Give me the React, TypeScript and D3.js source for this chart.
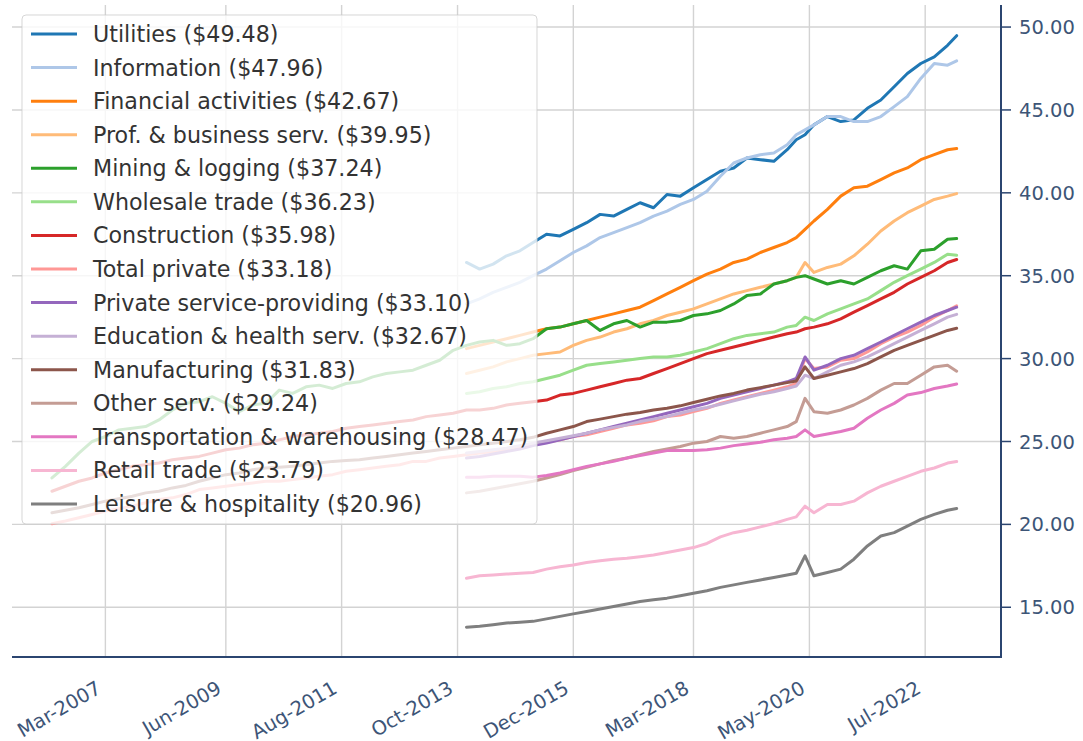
import React from 'react';
import * as d3 from 'd3';

// quarterly sample dates (plus the spring-2020 spike months)
const earlyMonths = [
  '2006-03', '2006-06', '2006-09', '2006-12',
  '2007-03', '2007-06', '2007-09', '2007-12',
  '2008-03', '2008-06', '2008-09', '2008-12',
  '2009-03', '2009-06', '2009-09', '2009-12',
  '2010-03', '2010-06', '2010-09', '2010-12',
  '2011-03', '2011-06', '2011-09', '2011-12',
  '2012-03', '2012-06', '2012-09', '2012-12',
  '2013-03', '2013-06', '2013-09',
];
const lateMonths = [
  '2013-12', '2014-03', '2014-06', '2014-09', '2014-12',
  '2015-03', '2015-06', '2015-09', '2015-12',
  '2016-03', '2016-06', '2016-09', '2016-12',
  '2017-03', '2017-06', '2017-09', '2017-12',
  '2018-03', '2018-06', '2018-09', '2018-12',
  '2019-03', '2019-06', '2019-09', '2019-12',
  '2020-02', '2020-04', '2020-06', '2020-09', '2020-12',
  '2021-03', '2021-06', '2021-09', '2021-12',
  '2022-03', '2022-06', '2022-09', '2022-12', '2023-02',
];

const utilities = [35.8, 35.4, 35.7, 36.2, 36.5, 37.0, 37.5, 37.4, 37.8, 38.2, 38.7, 38.6, 39.0, 39.4, 39.1, 39.9, 39.8, 40.3, 40.8, 41.3, 41.5, 42.1, 42.0, 41.9, 42.6, 43.2, 43.5, 44.1, 44.6, 44.3, 44.4, 45.1, 45.6, 46.4, 47.2, 47.8, 48.2, 48.9, 49.48];
const information = [33.3, 33.6, 34.0, 34.3, 34.6, 35.0, 35.4, 35.9, 36.4, 36.8, 37.3, 37.6, 37.9, 38.2, 38.6, 38.9, 39.3, 39.6, 40.1, 41.0, 41.8, 42.1, 42.3, 42.4, 42.9, 43.5, 43.8, 44.1, 44.6, 44.6, 44.3, 44.3, 44.6, 45.2, 45.8, 46.9, 47.8, 47.7, 47.96];
const financial = [30.6, 30.8, 31.0, 31.2, 31.4, 31.6, 31.8, 31.9, 32.1, 32.3, 32.5, 32.7, 32.9, 33.1, 33.5, 33.9, 34.3, 34.7, 35.1, 35.4, 35.8, 36.0, 36.4, 36.7, 37.0, 37.3, 37.8, 38.3, 39.0, 39.8, 40.3, 40.4, 40.8, 41.2, 41.5, 42.0, 42.3, 42.6, 42.67];
const profBusiness = [29.1, 29.3, 29.5, 29.8, 30.0, 30.2, 30.3, 30.4, 30.8, 31.1, 31.3, 31.6, 31.8, 32.1, 32.3, 32.6, 32.8, 33.0, 33.3, 33.6, 33.9, 34.1, 34.3, 34.5, 34.7, 34.9, 35.8, 35.2, 35.5, 35.7, 36.2, 36.9, 37.7, 38.3, 38.8, 39.2, 39.6, 39.8, 39.95];
const miningEarly = [22.8, 23.5, 24.3, 25.0, 25.3, 25.7, 25.8, 25.9, 26.3, 26.9, 27.3, 27.4, 27.7, 27.3, 26.8, 27.2, 27.3, 28.1, 27.9, 28.3, 28.4, 28.2, 28.5, 28.6, 28.9, 29.1, 29.2, 29.3, 29.6, 29.9, 30.5];
const miningLate = [30.8, 31.0, 31.1, 30.8, 30.9, 31.2, 31.8, 31.9, 32.1, 32.3, 31.7, 32.1, 32.3, 31.9, 32.2, 32.2, 32.3, 32.6, 32.7, 32.9, 33.3, 33.8, 33.9, 34.5, 34.7, 34.9, 35.0, 34.8, 34.5, 34.7, 34.5, 34.9, 35.3, 35.6, 35.4, 36.5, 36.6, 37.2, 37.24];
const wholesale = [27.9, 28.0, 28.2, 28.3, 28.5, 28.6, 28.8, 29.0, 29.3, 29.6, 29.7, 29.8, 29.9, 30.0, 30.1, 30.1, 30.2, 30.4, 30.6, 30.9, 31.2, 31.4, 31.5, 31.6, 31.9, 32.0, 32.5, 32.3, 32.7, 33.0, 33.3, 33.6, 34.1, 34.6, 35.0, 35.4, 35.8, 36.3, 36.23];
const constructionEarly = [22.0, 22.3, 22.6, 22.8, 23.1, 23.3, 23.5, 23.6, 23.7, 23.9, 24.0, 24.1, 24.3, 24.5, 24.6, 24.8, 24.9, 25.1, 25.3, 25.4, 25.5, 25.6, 25.8, 25.9, 26.0, 26.1, 26.2, 26.3, 26.5, 26.6, 26.7];
const constructionLate = [26.9, 26.9, 27.0, 27.2, 27.3, 27.4, 27.5, 27.8, 27.9, 28.1, 28.3, 28.5, 28.7, 28.8, 29.1, 29.4, 29.7, 30.0, 30.3, 30.5, 30.7, 30.9, 31.1, 31.3, 31.5, 31.6, 31.8, 31.9, 32.1, 32.4, 32.8, 33.2, 33.6, 34.0, 34.5, 34.9, 35.3, 35.8, 35.98];
const totalPrivateEarly = [20.04, 20.2, 20.4, 20.6, 20.8, 20.95, 21.1, 21.3, 21.5, 21.6, 21.8, 22.1, 22.2, 22.3, 22.4, 22.5, 22.6, 22.6, 22.7, 22.8, 22.9, 23.0, 23.2, 23.3, 23.4, 23.5, 23.6, 23.8, 23.8, 24.0, 24.1];
const totalPrivateLate = [24.2, 24.3, 24.4, 24.5, 24.6, 24.85, 24.95, 25.1, 25.3, 25.4, 25.6, 25.8, 26.0, 26.1, 26.25, 26.5, 26.6, 26.8, 27.0, 27.3, 27.5, 27.7, 27.9, 28.1, 28.3, 28.5, 30.0, 29.4, 29.5, 29.9, 30.0, 30.4, 30.9, 31.3, 31.6, 32.0, 32.5, 32.9, 33.18];
const privateService = [24.0, 24.1, 24.25, 24.4, 24.55, 24.75, 24.9, 25.1, 25.3, 25.5, 25.7, 25.9, 26.1, 26.3, 26.5, 26.7, 26.9, 27.1, 27.3, 27.6, 27.8, 28.0, 28.2, 28.4, 28.6, 28.8, 30.1, 29.3, 29.6, 30.0, 30.2, 30.6, 31.0, 31.4, 31.8, 32.2, 32.6, 32.9, 33.10];
const eduHealth = [24.3, 24.4, 24.5, 24.6, 24.75, 24.9, 25.05, 25.2, 25.35, 25.5, 25.7, 25.85, 26.0, 26.2, 26.35, 26.5, 26.7, 26.9, 27.05, 27.25, 27.45, 27.65, 27.85, 28.0, 28.2, 28.35, 29.0, 28.8, 29.2, 29.6, 29.8, 30.1, 30.5, 30.9, 31.3, 31.7, 32.1, 32.5, 32.67];
const manufacturingEarly = [20.7, 20.85, 21.0, 21.2, 21.4, 21.55, 21.7, 21.9, 22.0, 22.2, 22.35, 22.6, 22.8, 23.0, 23.1, 23.3, 23.4, 23.45, 23.5, 23.6, 23.7, 23.8, 23.85, 23.9, 24.0, 24.1, 24.2, 24.3, 24.4, 24.5, 24.6];
const manufacturingLate = [24.7, 24.8, 24.9, 25.0, 25.1, 25.25, 25.5, 25.7, 25.9, 26.2, 26.35, 26.5, 26.65, 26.75, 26.9, 27.0, 27.15, 27.35, 27.55, 27.75, 27.9, 28.1, 28.25, 28.4, 28.55, 28.65, 29.5, 28.8, 29.0, 29.2, 29.4, 29.7, 30.1, 30.5, 30.8, 31.1, 31.4, 31.7, 31.83];
const otherServ = [21.9, 22.0, 22.15, 22.3, 22.45, 22.6, 22.8, 23.0, 23.25, 23.45, 23.65, 23.85, 24.0, 24.2, 24.4, 24.55, 24.7, 24.9, 25.0, 25.3, 25.2, 25.3, 25.5, 25.7, 25.9, 26.2, 27.6, 26.8, 26.7, 26.9, 27.2, 27.6, 28.1, 28.5, 28.5, 29.0, 29.5, 29.6, 29.24];
const transport = [22.85, 22.85, 22.9, 22.9, 22.9, 22.85, 22.95, 23.1, 23.3, 23.5, 23.65, 23.8, 24.0, 24.15, 24.3, 24.45, 24.45, 24.45, 24.5, 24.6, 24.75, 24.85, 24.95, 25.1, 25.2, 25.3, 25.7, 25.3, 25.45, 25.6, 25.8, 26.4, 26.9, 27.3, 27.8, 27.95, 28.2, 28.35, 28.47];
const retail = [16.75, 16.9, 16.95, 17.0, 17.05, 17.1, 17.3, 17.45, 17.55, 17.7, 17.8, 17.9, 17.95, 18.05, 18.15, 18.3, 18.45, 18.6, 18.85, 19.25, 19.5, 19.65, 19.85, 20.05, 20.3, 20.45, 21.1, 20.7, 21.2, 21.2, 21.4, 21.9, 22.3, 22.6, 22.9, 23.2, 23.4, 23.7, 23.79];
const leisure = [13.8, 13.85, 13.95, 14.05, 14.1, 14.15, 14.3, 14.45, 14.6, 14.75, 14.9, 15.05, 15.2, 15.35, 15.45, 15.55, 15.7, 15.85, 16.0, 16.2, 16.35, 16.5, 16.65, 16.8, 16.95, 17.05, 18.1, 16.9, 17.1, 17.3, 17.9, 18.7, 19.3, 19.5, 19.9, 20.3, 20.6, 20.85, 20.96];

const tab20 = ['#1f77b4', '#aec7e8', '#ff7f0e', '#ffbb78', '#2ca02c', '#98df8a', '#d62728', '#ff9896',
  '#9467bd', '#c5b0d5', '#8c564b', '#c49c94', '#e377c2', '#f7b6d2', '#7f7f7f'];

const series = [
  { name: 'Utilities', early: [], late: utilities },
  { name: 'Information', early: [], late: information },
  { name: 'Financial activities', early: [], late: financial },
  { name: 'Prof. & business serv.', early: [], late: profBusiness },
  { name: 'Mining & logging', early: miningEarly, late: miningLate },
  { name: 'Wholesale trade', early: [], late: wholesale },
  { name: 'Construction', early: constructionEarly, late: constructionLate },
  { name: 'Total private', early: totalPrivateEarly, late: totalPrivateLate },
  { name: 'Private service-providing', early: [], late: privateService },
  { name: 'Education & health serv.', early: [], late: eduHealth },
  { name: 'Manufacturing', early: manufacturingEarly, late: manufacturingLate },
  { name: 'Other serv.', early: [], late: otherServ },
  { name: 'Transportation & warehousing', early: [], late: transport },
  { name: 'Retail trade', early: [], late: retail },
  { name: 'Leisure & hospitality', early: [], late: leisure },
];

const xTickLabels = ['Mar-2007', 'Jun-2009', 'Aug-2011', 'Oct-2013', 'Dec-2015', 'Mar-2018', 'May-2020', 'Jul-2022'];
const yTicks = [15, 20, 25, 30, 35, 40, 45, 50];

const W = 1083;
const H = 741;
const FONT = 'DejaVu Sans, sans-serif';
const AXIS = '#2b4570';
const TICK = '#3d5577';

export default function App() {
  const parseMonth = d3.timeParse('%Y-%m');
  const parseTick = d3.timeParse('%b-%Y');

  const x = d3.scaleTime()
    .domain([new Date(2005, 5, 1), new Date(2023, 11, 1)])
    .range([12, 1001]);
  const y = d3.scaleLinear().domain([12, 51.33]).range([657, 5]);

  const line = d3.line<[Date, number]>()
    .x(d => x(d[0]))
    .y(d => y(d[1]));

  const paths = series.map((s, i) => {
    const pts: [Date, number][] = [];
    s.early.forEach((v, j) => pts.push([parseMonth(earlyMonths[j]) as Date, v]));
    s.late.forEach((v, j) => pts.push([parseMonth(lateMonths[j]) as Date, v]));
    return { d: line(pts) || '', color: tab20[i] };
  });

  const xTicks = xTickLabels.map(l => ({ label: l, x: x(parseTick(l) as Date) }));

  const legendX = 22, legendY = 15, rowH = 33.57;

  return (
    <svg width={W} height={H} style={{ position: 'absolute', left: 0, top: 0, background: '#fff' }}
      fontFamily={FONT}>
      {/* grid */}
      {yTicks.map(t => (
        <line key={'gy' + t} x1={12} x2={1001} y1={y(t)} y2={y(t)} stroke="#d3d3d3" strokeWidth={1.4} />
      ))}
      {xTicks.map(t => (
        <line key={'gx' + t.label} x1={t.x} x2={t.x} y1={5} y2={657} stroke="#d3d3d3" strokeWidth={1.4} />
      ))}

      {/* series */}
      {paths.map((p, i) => (
        <path key={i} d={p.d} fill="none" stroke={p.color} strokeWidth={3}
          strokeLinejoin="round" strokeLinecap="round" />
      ))}

      {/* spines */}
      <line x1={12} x2={1002} y1={657} y2={657} stroke={AXIS} strokeWidth={2} />
      <line x1={1001} x2={1001} y1={5} y2={658} stroke={AXIS} strokeWidth={2} />

      {/* y ticks on the right */}
      {yTicks.map(t => (
        <g key={'yt' + t} transform={`translate(1001,${y(t)})`}>
          <line x1={0} x2={10} stroke={AXIS} strokeWidth={1.5} />
          <text x={18} dy="0.36em" fontSize={19.5} fill={TICK}>{d3.format('.2f')(t)}</text>
        </g>
      ))}

      {/* x tick labels */}
      {xTicks.map(t => (
        <text key={'xt' + t.label} transform={`translate(${t.x - 3},692) rotate(-30)`}
          textAnchor="end" fontSize={19.5} fill={TICK}>{t.label}</text>
      ))}

      {/* legend */}
      <rect x={legendX} y={legendY} width={515} height={509} rx={4}
        fill="#fff" fillOpacity={0.8} stroke="#cccccc" strokeOpacity={0.8} />
      {series.map((s, i) => {
        const cy = 34 + i * rowH;
        const last = s.late[s.late.length - 1];
        return (
          <g key={'lg' + i}>
            <line x1={31} x2={77} y1={cy} y2={cy} stroke={tab20[i]} strokeWidth={3} />
            <text x={93} y={cy} dy="0.36em" fontSize={22.2} fill="#333">
              {`${s.name} ($${last.toFixed(2)})`}
            </text>
          </g>
        );
      })}
    </svg>
  );
}
